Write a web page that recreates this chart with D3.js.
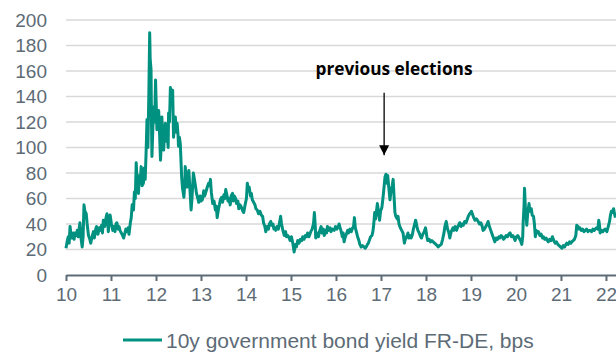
<!DOCTYPE html>
<html><head><meta charset="utf-8">
<script src="https://cdn.jsdelivr.net/npm/d3@7"></script>
<style>
html,body{margin:0;padding:0;background:#fff;}
svg{display:block;}
</style></head>
<body>
<svg id="chart" width="616" height="354"></svg>
<script>
const seriesName = "10y government bond yield FR-DE, bps";
const yTicks = [0,20,40,60,80,100,120,140,160,180,200];
const xTickYears = [2010,2011,2012,2013,2014,2015,2016,2017,2018,2019,2020,2021,2022];
const xTickLabels = ["10","11","12","13","14","15","16","17","18","19","20","21","22"];
const annotationText = "previous elections";
const annotationYear = 2017.07;
const annotationArrow = [143, 94];

const dates = [
2010.00,2010.03,2010.05,2010.07,2010.09,2010.11,2010.13,2010.16,2010.18,2010.20,2010.23,2010.25,2010.27,2010.29,2010.31,2010.33,2010.36,2010.38,2010.40,2010.42,2010.45,2010.47,2010.50,2010.53,2010.55,2010.58,2010.61,2010.63,2010.66,2010.68,2010.71,2010.74,2010.76,2010.79,2010.81,2010.83,2010.86,2010.89,2010.91,2010.93,2010.94,2010.96,2010.98,
2011.01,2011.04,2011.06,2011.09,2011.11,2011.13,2011.16,2011.18,2011.20,2011.23,2011.26,2011.28,2011.31,2011.33,2011.35,2011.38,2011.40,2011.43,2011.45,2011.47,2011.50,2011.52,2011.54,2011.56,2011.58,2011.61,2011.63,2011.65,2011.67,2011.69,2011.72,2011.74,2011.76,2011.78,2011.80,2011.82,2011.84,2011.85,2011.86,2011.87,2011.89,2011.90,2011.91,2011.93,2011.95,2011.97,2011.99,
2012.00,2012.02,2012.04,2012.06,2012.08,2012.10,2012.12,2012.13,2012.15,2012.17,2012.19,2012.21,2012.23,2012.25,2012.27,2012.28,2012.30,2012.32,2012.34,2012.36,2012.37,2012.39,2012.41,2012.43,2012.45,2012.47,2012.49,2012.50,2012.52,2012.54,2012.57,2012.59,2012.62,2012.64,2012.65,2012.67,2012.69,2012.71,2012.73,2012.75,2012.78,2012.80,2012.83,2012.85,2012.88,2012.90,2012.93,2012.95,2012.98,
2013.00,2013.03,2013.06,2013.08,2013.10,2013.14,2013.17,2013.19,2013.21,2013.23,2013.26,2013.29,2013.32,2013.34,2013.36,2013.39,2013.41,2013.43,2013.46,2013.48,2013.51,2013.53,2013.55,2013.58,2013.60,2013.62,2013.65,2013.67,2013.70,2013.72,2013.74,2013.77,2013.79,2013.82,2013.84,2013.87,2013.90,2013.93,2013.95,2013.98,
2014.01,2014.03,2014.05,2014.07,2014.10,2014.12,2014.14,2014.17,2014.20,2014.22,2014.25,2014.28,2014.31,2014.34,2014.37,2014.39,2014.42,2014.44,2014.47,2014.50,2014.52,2014.55,2014.57,2014.60,2014.62,2014.64,2014.66,2014.69,2014.72,2014.74,2014.77,2014.79,2014.82,2014.85,2014.88,2014.90,2014.93,2014.96,2014.98,
2015.01,2015.04,2015.07,2015.10,2015.12,2015.15,2015.18,2015.21,2015.24,2015.26,2015.29,2015.32,2015.35,2015.37,2015.40,2015.42,2015.44,2015.47,2015.50,2015.52,2015.54,2015.55,2015.58,2015.61,2015.64,2015.67,2015.69,2015.72,2015.74,2015.77,2015.79,2015.81,2015.84,2015.87,2015.89,2015.92,2015.96,2015.99,
2016.02,2016.05,2016.07,2016.09,2016.11,2016.14,2016.16,2016.18,2016.20,2016.23,2016.26,2016.28,2016.31,2016.34,2016.37,2016.39,2016.41,2016.43,2016.46,2016.48,2016.51,2016.53,2016.56,2016.59,2016.62,2016.65,2016.67,2016.70,2016.72,2016.74,2016.77,2016.80,2016.82,2016.84,2016.86,2016.88,2016.90,2016.92,2016.95,2016.97,2016.99,
2017.02,2017.04,2017.06,2017.09,2017.11,2017.13,2017.15,2017.17,2017.20,2017.22,2017.25,2017.27,2017.29,2017.31,2017.33,2017.36,2017.38,2017.40,2017.43,2017.46,2017.49,2017.52,2017.54,2017.57,2017.60,2017.62,2017.65,2017.67,2017.70,2017.72,2017.75,2017.77,2017.80,2017.82,2017.85,2017.88,2017.90,2017.93,2017.96,2017.99,
2018.02,2018.04,2018.07,2018.10,2018.13,2018.16,2018.19,2018.22,2018.25,2018.27,2018.30,2018.34,2018.37,2018.40,2018.42,2018.45,2018.48,2018.51,2018.53,2018.56,2018.60,2018.62,2018.65,2018.68,2018.71,2018.75,2018.78,2018.80,2018.83,2018.86,2018.89,2018.92,2018.94,2018.97,
2019.01,2019.04,2019.06,2019.09,2019.12,2019.16,2019.19,2019.22,2019.25,2019.27,2019.30,2019.33,2019.36,2019.38,2019.41,2019.44,2019.46,2019.49,2019.51,2019.53,2019.56,2019.59,2019.62,2019.64,2019.67,2019.70,2019.72,2019.75,2019.78,2019.81,2019.84,2019.87,2019.90,2019.93,2019.96,2019.98,
2020.01,2020.04,2020.07,2020.10,2020.13,2020.15,2020.16,2020.18,2020.19,2020.21,2020.23,2020.24,2020.26,2020.29,2020.31,2020.34,2020.36,2020.39,2020.41,2020.43,2020.45,2020.48,2020.50,2020.53,2020.56,2020.59,2020.61,2020.64,2020.67,2020.70,2020.72,2020.75,2020.78,2020.81,2020.84,2020.87,2020.90,2020.93,2020.96,2020.99,
2021.02,2021.05,2021.08,2021.11,2021.13,2021.16,2021.19,2021.22,2021.24,2021.27,2021.30,2021.33,2021.35,2021.38,2021.40,2021.42,2021.45,2021.48,2021.51,2021.54,2021.57,2021.60,2021.62,2021.65,2021.68,2021.71,2021.74,2021.76,2021.79,2021.82,2021.84,2021.86,2021.87,2021.90,2021.93,2021.95,2021.98,
2022.02,2022.05,2022.08,2022.10,2022.12,2022.15,2022.17,2022.19,2022.21
];
const spread = [
21,27,30,25,38,32,29,33,28,33,31,35,30,36,41,30,22,30,55,50,48,40,31,28,25,30,34,29,36,38,32,37,35,39,33,43,38,45,48,40,34,42,47,
40,35,38,34,40,41,36,38,35,33,31,29,33,36,34,37,32,41,45,55,51,65,60,88,75,64,78,72,85,70,72,84,75,96,122,100,140,165,190,170,161,120,93,115,132,120,153,
140,114,120,129,110,90,105,124,110,98,112,119,105,111,100,127,120,147,135,140,145,108,118,124,112,119,110,101,108,103,77,68,61,72,85,75,69,76,82,70,51,60,80,76,69,64,60,57,62,
58,59,66,62,64,69,72,70,75,65,56,58,51,54,45,52,55,59,61,57,63,60,67,62,58,60,55,62,64,58,62,60,56,58,52,55,53,50,49,55,
60,72,66,69,62,64,59,57,55,52,51,48,50,47,46,41,38,34,38,36,40,42,39,40,36,37,35,38,36,40,46,40,35,31,34,30,31,29,27,
30,25,18,24,22,27,25,28,27,30,28,31,30,33,30,32,34,36,40,49,38,29,33,30,35,38,33,36,31,35,33,38,35,37,34,36,35,38,
36,38,40,37,35,30,33,26,29,32,35,33,36,34,37,38,45,37,33,30,27,24,22,23,22,21,22,24,25,27,30,31,34,40,49,44,50,56,48,43,50,
53,59,66,77,79,72,78,70,59,65,70,75,62,49,46,44,46,40,37,35,33,25,28,30,33,29,31,29,32,36,40,43,38,35,33,30,29,32,34,37,
30,27,28,26,27,26,25,24,23,22,23,24,28,33,38,42,36,33,29,34,37,35,38,35,38,41,38,40,39,42,41,44,46,48,
50,47,45,43,44,42,40,41,38,35,36,38,40,42,38,35,33,30,28,26,29,28,30,29,31,30,28,29,31,30,32,33,30,31,29,27,
30,31,29,27,24,30,41,55,68,52,45,39,48,56,50,52,47,46,40,30,35,33,34,31,32,29,30,28,29,27,26,28,27,30,27,25,26,24,23,22,
21,23,22,24,25,24,26,25,26,27,28,31,39,38,36,37,35,36,34,35,36,34,35,35,34,36,35,36,37,36,43,38,33,35,34,35,36,
34,38,42,47,50,49,52,48,45
];

(function(){
const data = dates.map((d,i)=>({t:d, v:spread[i]})).filter(d=>d.v!==undefined);
const svg = d3.select("#chart");
const mLeft = 66, mRight = 616, mTop = 20, mBottom = 275;
const x = d3.scaleLinear().domain([2010, 2022.223]).range([mLeft, mRight]);
const y = d3.scaleLinear().domain([0, 200]).range([mBottom, mTop]);
const font = "'Liberation Sans', Arial, sans-serif";
const labelColor = "#5d6b76";

svg.append("g").selectAll("line").data(yTicks.filter(d=>d>0)).join("line")
  .attr("x1", mLeft).attr("x2", mRight)
  .attr("y1", d=>y(d)).attr("y2", d=>y(d))
  .attr("stroke", "#d9d9d9").attr("stroke-width", 1.3);

svg.append("g").selectAll("text").data(yTicks).join("text")
  .attr("x", 47).attr("y", d=>y(d)).attr("dy", "0.36em")
  .attr("text-anchor", "end")
  .attr("font-family", font).attr("font-size", 19).attr("fill", labelColor)
  .text(d=>d);

const xAxis = d3.axisBottom(x).tickValues(xTickYears)
  .tickFormat((d,i)=>xTickLabels[i]).tickSizeOuter(0).tickSizeInner(6).tickPadding(7);
const gx = svg.append("g").attr("transform", `translate(0,${mBottom})`).call(xAxis);
gx.select(".domain").attr("stroke", "#5d6b76").attr("stroke-width", 2.2);
gx.selectAll(".tick line").attr("stroke", "#5d6b76").attr("stroke-width", 2);
gx.selectAll(".tick text").attr("font-family", font).attr("font-size", 19).attr("fill", labelColor);

const line = d3.line().x(d=>x(d.t)).y(d=>y(d.v));
svg.append("path").datum(data)
  .attr("d", line).attr("fill", "none")
  .attr("stroke", "#009180").attr("stroke-width", 3)
  .attr("stroke-linejoin", "round");

const ax = x(annotationYear);
svg.append("defs").append("marker").attr("id","arr")
  .attr("viewBox","0 0 10 10").attr("refX",10).attr("refY",5)
  .attr("markerWidth",10).attr("markerHeight",11).attr("markerUnits","userSpaceOnUse")
  .attr("orient","auto")
  .append("path").attr("d","M0,0L10,5L0,10Z").attr("fill","#000");
svg.append("line").attr("x1", ax).attr("x2", ax)
  .attr("y1", y(annotationArrow[0])).attr("y2", y(annotationArrow[1]))
  .attr("stroke", "#000").attr("stroke-width", 1.3).attr("marker-end","url(#arr)");
const at = svg.append("text").attr("x", 394).attr("y", 75)
  .attr("text-anchor","middle").attr("font-family","'Open Sans', Lato, sans-serif")
  .attr("font-weight", 700).attr("font-size", 15).attr("fill","#000")
  .text(annotationText);
// fit label to the reference width
const aw = at.node().getComputedTextLength();
if (aw > 0) at.attr("font-size", 15 * 157 / aw);

const lg = svg.append("g");
lg.append("line").attr("x1", 123).attr("x2", 162).attr("y1", 340).attr("y2", 340)
  .attr("stroke", "#009180").attr("stroke-width", 3.2);
lg.append("text").attr("x", 166).attr("y", 340).attr("dy","0.36em")
  .attr("font-family", font).attr("font-size", 21).attr("fill", labelColor)
  .text(seriesName);
})();
</script>
</body></html>
